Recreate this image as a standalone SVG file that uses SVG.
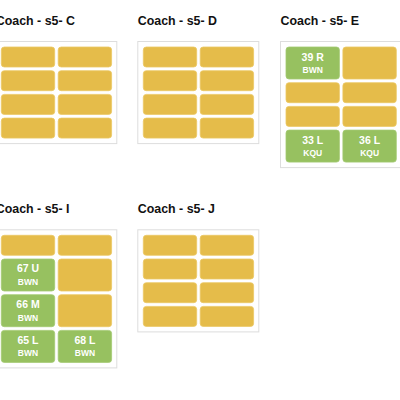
<svg xmlns="http://www.w3.org/2000/svg" width="400" height="400" viewBox="0 0 400 400">
<style>
.bg{fill:#ffffff}
.box{fill:#ffffff;stroke:#dddddd;stroke-width:1}
.title{font-family:"Liberation Sans",Arial,sans-serif;font-weight:bold;font-size:12.4px;fill:#111111}
.y{fill:#e5bc4a;stroke:#ebc865;stroke-width:0.8}
.g{fill:#97c160;stroke:#a3c972;stroke-width:0.8}
.n{font-family:"Liberation Sans",Arial,sans-serif;font-weight:bold;font-size:10.5px;fill:#ffffff;text-anchor:middle}
.c{font-family:"Liberation Sans",Arial,sans-serif;font-weight:bold;font-size:8.5px;fill:#ffffff;text-anchor:middle}
</style>
<rect class="bg" x="0" y="0" width="400" height="400"/>

<g id="coach-C" transform="translate(-4.7,41)">
<text class="title" x="0.5" y="-16">Coach - s5- C</text>
<rect class="box" x="0.5" y="0.5" width="121" height="102.1"/>
<rect class="y" x="6" y="6" width="53.4" height="20" rx="3"/>
<rect class="y" x="62.9" y="6" width="53.4" height="20" rx="3"/>
<rect class="y" x="6" y="29.7" width="53.4" height="20" rx="3"/>
<rect class="y" x="62.9" y="29.7" width="53.4" height="20" rx="3"/>
<rect class="y" x="6" y="53.4" width="53.4" height="20" rx="3"/>
<rect class="y" x="62.9" y="53.4" width="53.4" height="20" rx="3"/>
<rect class="y" x="6" y="77.1" width="53.4" height="20" rx="3"/>
<rect class="y" x="62.9" y="77.1" width="53.4" height="20" rx="3"/>
</g>

<g id="coach-D" transform="translate(137.3,41)">
<text class="title" x="0.5" y="-16">Coach - s5- D</text>
<rect class="box" x="0.5" y="0.5" width="121" height="102.1"/>
<rect class="y" x="6" y="6" width="53.4" height="20" rx="3"/>
<rect class="y" x="62.9" y="6" width="53.4" height="20" rx="3"/>
<rect class="y" x="6" y="29.7" width="53.4" height="20" rx="3"/>
<rect class="y" x="62.9" y="29.7" width="53.4" height="20" rx="3"/>
<rect class="y" x="6" y="53.4" width="53.4" height="20" rx="3"/>
<rect class="y" x="62.9" y="53.4" width="53.4" height="20" rx="3"/>
<rect class="y" x="6" y="77.1" width="53.4" height="20" rx="3"/>
<rect class="y" x="62.9" y="77.1" width="53.4" height="20" rx="3"/>
</g>

<g id="coach-E" transform="translate(280,41)">
<text class="title" x="0.5" y="-16">Coach - s5- E</text>
<rect class="box" x="0.5" y="0.5" width="121" height="126.1"/>
<rect class="g" x="6" y="6" width="53.4" height="32" rx="3"/>
<text class="n" x="32.7" y="19.5">39 R</text>
<text class="c" x="32.7" y="32">BWN</text>
<rect class="y" x="62.9" y="6" width="53.4" height="32" rx="3"/>
<rect class="y" x="6" y="41.7" width="53.4" height="20" rx="3"/>
<rect class="y" x="62.9" y="41.7" width="53.4" height="20" rx="3"/>
<rect class="y" x="6" y="65.4" width="53.4" height="20" rx="3"/>
<rect class="y" x="62.9" y="65.4" width="53.4" height="20" rx="3"/>
<rect class="g" x="6" y="89.1" width="53.4" height="32" rx="3"/>
<text class="n" x="32.7" y="102.6">33 L</text>
<text class="c" x="32.7" y="115.1">KQU</text>
<rect class="g" x="62.9" y="89.1" width="53.4" height="32" rx="3"/>
<text class="n" x="89.6" y="102.6">36 L</text>
<text class="c" x="89.6" y="115.1">KQU</text>
</g>

<g id="coach-I" transform="translate(-4.7,229.3)">
<text class="title" x="0.5" y="-16">Coach - s5- I</text>
<rect class="box" x="0.5" y="0.5" width="121" height="138.1"/>
<rect class="y" x="6" y="6" width="53.4" height="20" rx="3"/>
<rect class="y" x="62.9" y="6" width="53.4" height="20" rx="3"/>
<rect class="g" x="6" y="29.7" width="53.4" height="32" rx="3"/>
<text class="n" x="32.7" y="43.2">67 U</text>
<text class="c" x="32.7" y="55.7">BWN</text>
<rect class="y" x="62.9" y="29.7" width="53.4" height="32" rx="3"/>
<rect class="g" x="6" y="65.4" width="53.4" height="32" rx="3"/>
<text class="n" x="32.7" y="78.9">66 M</text>
<text class="c" x="32.7" y="91.4">BWN</text>
<rect class="y" x="62.9" y="65.4" width="53.4" height="32" rx="3"/>
<rect class="g" x="6" y="101.1" width="53.4" height="32" rx="3"/>
<text class="n" x="32.7" y="114.6">65 L</text>
<text class="c" x="32.7" y="127.1">BWN</text>
<rect class="g" x="62.9" y="101.1" width="53.4" height="32" rx="3"/>
<text class="n" x="89.6" y="114.6">68 L</text>
<text class="c" x="89.6" y="127.1">BWN</text>
</g>

<g id="coach-J" transform="translate(137.3,229.3)">
<text class="title" x="0.5" y="-16">Coach - s5- J</text>
<rect class="box" x="0.5" y="0.5" width="121" height="102.1"/>
<rect class="y" x="6" y="6" width="53.4" height="20" rx="3"/>
<rect class="y" x="62.9" y="6" width="53.4" height="20" rx="3"/>
<rect class="y" x="6" y="29.7" width="53.4" height="20" rx="3"/>
<rect class="y" x="62.9" y="29.7" width="53.4" height="20" rx="3"/>
<rect class="y" x="6" y="53.4" width="53.4" height="20" rx="3"/>
<rect class="y" x="62.9" y="53.4" width="53.4" height="20" rx="3"/>
<rect class="y" x="6" y="77.1" width="53.4" height="20" rx="3"/>
<rect class="y" x="62.9" y="77.1" width="53.4" height="20" rx="3"/>
</g>
</svg>
